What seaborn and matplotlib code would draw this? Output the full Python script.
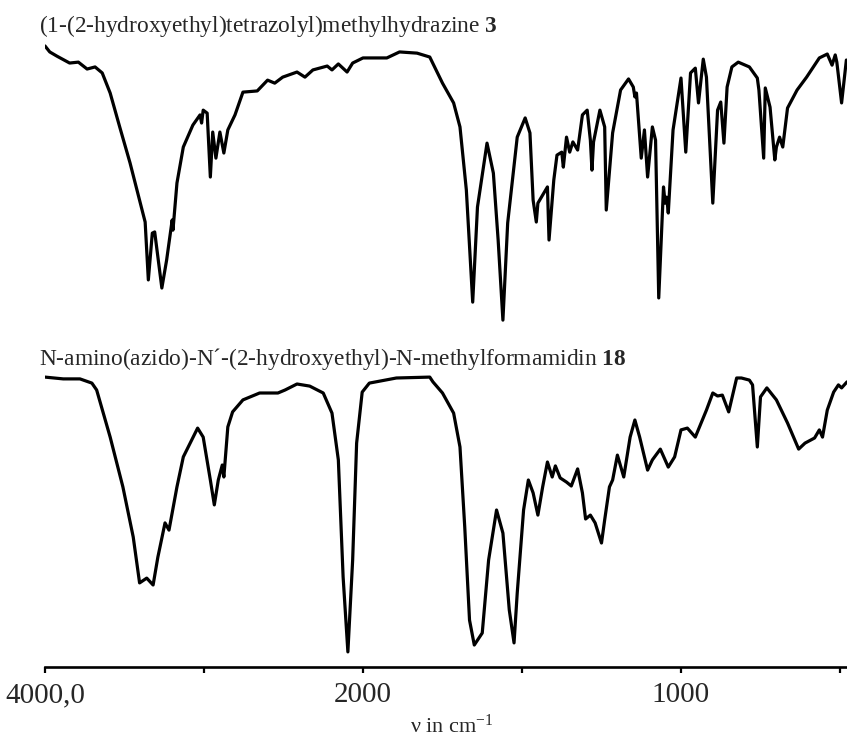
import numpy as np
import pandas as pd
import matplotlib
matplotlib.use("Agg")
import matplotlib.pyplot as plt
import seaborn as sns

# --------------------------------------------------------------
# IR data (wavenumber in cm-1, transmittance in %)
# --------------------------------------------------------------
wn_3 = [4000, 3970, 3925, 3845, 3790, 3735, 3685, 3640, 3590, 3530, 3465, 3405,
        3370, 3350, 3325, 3310, 3265, 3235, 3200, 3195, 3170, 3130, 3070, 3025,
        3015, 3005, 2980, 2960, 2945, 2925, 2900, 2875, 2850, 2805, 2755, 2665,
        2600, 2555, 2505, 2415, 2365, 2315, 2225, 2195, 2155, 2100, 2065, 2000,
        1925, 1885, 1830, 1790, 1750, 1715, 1695, 1675, 1655, 1640, 1610, 1590,
        1575, 1560, 1545, 1515, 1490, 1475, 1465, 1455, 1450, 1420, 1415, 1400,
        1390, 1375, 1370, 1360, 1350, 1340, 1325, 1310, 1295, 1285, 1280, 1275,
        1255, 1240, 1235, 1215, 1190, 1165, 1150, 1145, 1140, 1125, 1115, 1105,
        1090, 1080, 1070, 1055, 1050, 1045, 1040, 1025, 1000, 985, 970, 955,
        945, 930, 920, 900, 885, 875, 865, 855, 840, 820, 785, 760, 755, 740,
        735, 720, 705, 700, 690, 680, 665, 635, 605, 565, 540, 525, 515, 510,
        495, 480]
T_3 = [94.7, 92.7, 91.3, 89.0, 89.3, 87.0, 87.7, 85.7, 79.0, 67.7, 55.7, 43.3,
       36.0, 16.7, 32.3, 32.7, 14.0, 23.3, 36.7, 33.3, 49.0, 61.0, 68.3, 71.7,
       69.0, 73.3, 72.3, 51.0, 66.0, 57.3, 66.0, 59.0, 66.7, 71.7, 79.3, 79.7,
       83.3, 82.3, 84.3, 86.0, 84.3, 86.7, 88.0, 86.7, 88.7, 86.0, 89.0, 90.7,
       90.7, 92.7, 92.3, 91.0, 82.3, 75.7, 67.7, 46.7, 9.3, 41.0, 62.3, 52.3,
       30.0, 3.3, 35.7, 64.3, 70.7, 65.7, 43.3, 36.0, 42.3, 47.7, 30.0, 50.0,
       58.3, 59.3, 54.3, 64.3, 59.3, 62.7, 60.0, 71.7, 73.3, 63.3, 53.3, 62.7,
       73.3, 67.7, 40.0, 65.7, 80.0, 83.7, 81.0, 77.7, 79.0, 57.3, 66.7, 51.0,
       67.7, 63.3, 10.7, 47.7, 42.3, 44.3, 39.0, 66.7, 84.0, 59.3, 85.7, 87.3,
       75.7, 90.3, 84.3, 42.3, 73.3, 76.0, 62.3, 81.0, 87.7, 89.3, 87.7, 84.0,
       80.0, 57.3, 80.7, 74.3, 56.7, 61.0, 64.3, 61.0, 74.0, 80.0, 84.3, 90.7,
       92.0, 88.3, 91.7, 89.3, 75.7, 90.0]

wn_18 = [4000, 3885, 3780, 3705, 3675, 3590, 3510, 3445, 3405, 3360, 3320, 3290,
         3245, 3220, 3170, 3130, 3040, 3005, 2960, 2935, 2910, 2885, 2875, 2850,
         2820, 2755, 2650, 2535, 2490, 2415, 2335, 2250, 2195, 2155, 2125, 2095,
         2065, 2040, 2005, 1980, 1895, 1790, 1780, 1750, 1715, 1695, 1680, 1665,
         1650, 1625, 1605, 1580, 1560, 1540, 1525, 1515, 1495, 1480, 1465, 1450,
         1435, 1420, 1405, 1395, 1380, 1360, 1345, 1325, 1310, 1300, 1285, 1270,
         1250, 1240, 1225, 1215, 1200, 1180, 1160, 1145, 1130, 1105, 1090, 1065,
         1040, 1020, 1000, 980, 955, 920, 900, 885, 870, 850, 825, 810, 785, 775,
         760, 750, 730, 700, 665, 630, 610, 580, 565, 555, 540, 520, 505, 495, 478]
T_18 = [94.3, 93.7, 93.7, 92.3, 90.0, 74.3, 57.7, 41.0, 25.7, 27.3, 25.0, 34.3,
        45.7, 43.3, 57.7, 67.7, 77.3, 74.3, 60.0, 51.7, 60.0, 65.0, 61.0, 77.7,
        82.7, 86.7, 89.0, 89.0, 90.0, 92.0, 91.3, 89.0, 82.3, 66.7, 27.7, 2.7,
        33.3, 72.3, 89.3, 92.3, 94.0, 94.3, 92.7, 89.0, 82.3, 71.0, 44.3, 13.3,
        5.0, 9.0, 33.3, 50.0, 42.3, 16.7, 5.7, 22.3, 50.0, 60.0, 55.7, 48.3,
        57.7, 66.0, 61.0, 64.7, 60.7, 59.3, 58.0, 63.7, 55.7, 47.0, 48.3, 45.7,
        39.0, 46.7, 57.7, 60.0, 68.3, 61.0, 74.3, 80.0, 74.3, 63.3, 66.7, 70.3,
        64.3, 67.7, 76.7, 77.3, 74.3, 83.3, 89.0, 88.0, 88.3, 82.7, 94.0, 94.0,
        93.3, 91.7, 71.0, 87.7, 90.7, 86.7, 79.0, 70.3, 72.3, 74.0, 76.7, 74.3,
        83.3, 89.3, 91.7, 90.7, 92.7]

tick_pos = [4000, 3000, 2000, 1500, 1000, 500]
tick_txt = ["4000,0", "", "2000", "", "1000", ""]

name_3 = "(1-(2-hydroxyethyl)tetrazolyl)methylhydrazine $\\mathbf{3}$"
name_18 = "N-amino(azido)-N\u00b4-(2-hydroxyethyl)-N-methylformamidin $\\mathbf{18}$"

df3 = pd.DataFrame({"wn": wn_3, "T": T_3})
df18 = pd.DataFrame({"wn": wn_18, "T": T_18})

# --------------------------------------------------------------
# Style
# --------------------------------------------------------------
sns.set_theme(style="white")
plt.rcParams["font.family"] = ["Liberation Serif", "DejaVu Serif"]
plt.rcParams["mathtext.fontset"] = "custom"
plt.rcParams["mathtext.rm"] = "Liberation Serif"
plt.rcParams["mathtext.bf"] = "Liberation Serif:bold"
plt.rcParams["mathtext.it"] = "Liberation Serif:italic"


# split wavenumber scale: 4000-2000 compressed, below 2000 doubled
def fwd(v):
    v = np.asarray(v, dtype=float)
    return np.where(v >= 2000, (v - 2000) / 2000, (v - 2000) / 1000)


def inv(w):
    w = np.asarray(w, dtype=float)
    return np.where(w >= 0, 2000 + 2000 * w, 2000 + 1000 * w)


fig = plt.figure(figsize=(8.47, 7.38), dpi=100)
ax_top = fig.add_axes([0.0531, 0.5528, 0.9469, 0.4065])
ax_bot = fig.add_axes([0.0531, 0.0962, 0.9469, 0.4160])

for ax, df in [(ax_top, df3), (ax_bot, df18)]:
    sns.lineplot(data=df, x="wn", y="T", ax=ax, color="black", linewidth=2.3,
                 estimator=None, sort=False, solid_joinstyle="round",
                 solid_capstyle="round")
    ax.set_xscale("function", functions=(fwd, inv))
    ax.set_xlim(4000, 478)
    ax.set_ylabel("")
    ax.set_yticks([])
    for side in ["top", "right", "left"]:
        ax.spines[side].set_visible(False)
    ax.patch.set_alpha(0)

ax_top.set_ylim(0, 100)
ax_top.spines["bottom"].set_visible(False)
ax_top.set_xticks([])
ax_top.set_xlabel("")

ax_bot.set_ylim(-2.33, 100)
ax_bot.spines["bottom"].set_linewidth(1.9)
ax_bot.spines["bottom"].set_color("black")
ax_bot.set_xticks(tick_pos)
ax_bot.set_xticklabels(tick_txt)
ax_bot.tick_params(axis="x", direction="out", length=4, width=1.6, color="black",
                   labelsize=21, pad=7, bottom=True)
ax_bot.set_xlabel("\u03bd in cm$^{\\mathregular{-1}}$", fontsize=16)
ax_bot.xaxis.set_label_coords(0.507, -0.155)

fig.text(39 / 847, 1 - 32 / 738, name_3, fontsize=16.8, va="baseline", ha="left")
fig.text(39 / 847, 1 - 365 / 738, name_18, fontsize=16.8, va="baseline", ha="left")

fig.savefig("out.png", dpi=100, facecolor="white")
